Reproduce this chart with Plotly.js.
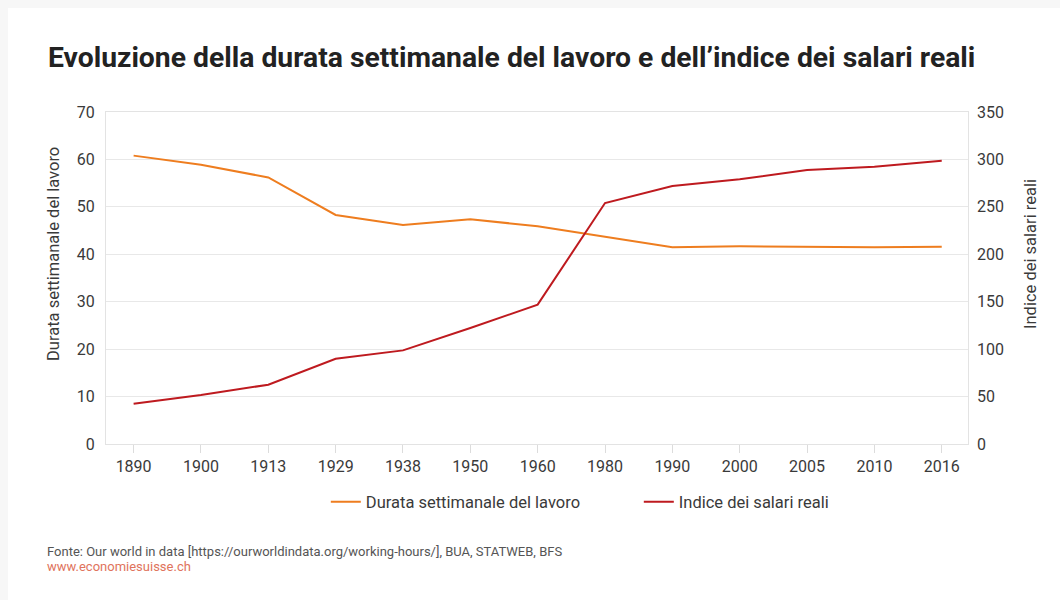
<!DOCTYPE html>
<html>
<head>
<meta charset="utf-8">
<script src="https://cdn.plot.ly/plotly-3.0.1.min.js"></script>
<style>
html,body{margin:0;padding:0;background:#f7f7f7;}
#chart{width:1060px;height:600px;}
</style>
</head>
<body>
<div id="chart"></div>
<script>
const years = ["1890","1900","1913","1929","1938","1950","1960","1980","1990","2000","2005","2010","2016"];
const workHours = [60.8, 58.9, 56.2, 48.3, 46.2, 47.4, 45.9, 43.7, 41.5, 41.7, 41.6, 41.5, 41.6];
const realWageIndex = [42.5, 51.7, 62.5, 89.9, 98.7, 122.3, 146.9, 254, 272, 279, 288.8, 292.3, 298.7];
const seriesNames = ["Durata settimanale del lavoro", "Indice dei salari reali"];
const titleText = "Evoluzione della durata settimanale del lavoro e dell’indice dei salari reali";
const sourceText = "Fonte: Our world in data [https://ourworldindata.org/working-hours/], BUA, STATWEB, BFS";
const siteText = "www.economiesuisse.ch";

const FONT = "Roboto, 'DejaVu Sans', sans-serif";
const TXT = '#3a3a3a';

const traces = [
  {x: years, y: workHours, name: seriesNames[0], type: 'scatter', mode: 'lines',
   line: {color: '#ee7d1f', width: 2}, yaxis: 'y'},
  {x: years, y: realWageIndex, name: seriesNames[1], type: 'scatter', mode: 'lines',
   line: {color: '#be1a1f', width: 2}, yaxis: 'y2'}
];

const PW = 862, PH = 332;
const layout = {
  width: 1060, height: 600,
  paper_bgcolor: '#f7f7f7', plot_bgcolor: 'rgba(0,0,0,0)',
  margin: {l: 106, r: 92, t: 112, b: 156},
  font: {family: FONT, color: TXT, size: 16},
  showlegend: true,
  legend: {orientation: 'h', x: 0.255, xanchor: 'left', y: -0.175, yanchor: 'middle',
           font: {size: 16.5, color: TXT}, bgcolor: 'rgba(0,0,0,0)', entrywidth: 268},
  xaxis: {type: 'category', range: [-0.41, 12.39], showgrid: false,
          showline: true, linecolor: '#e3e3e3', linewidth: 1, mirror: true,
          ticks: 'outside', ticklen: 8, tickcolor: '#dcdcdc', tickwidth: 1,
          tickfont: {size: 16, color: TXT}, zeroline: false, fixedrange: true},
  yaxis: {range: [0, 70], dtick: 10, showgrid: true, gridcolor: '#e8e8e8',
          showline: true, linecolor: '#e3e3e3', mirror: true, zeroline: false,
          ticks: '', ticklabelstandoff: 7,
          tickfont: {size: 16, color: TXT}},
  yaxis2: {range: [0, 350], dtick: 50, overlaying: 'y', side: 'right', showgrid: false,
           showline: false, zeroline: false, ticks: '', ticklabelstandoff: 8,
           tickfont: {size: 16, color: TXT}},
  shapes: [
    {type: 'rect', xref: 'paper', yref: 'paper', layer: 'below',
     x0: -98/PW, x1: 92/PW + 1, y0: -156/PH, y1: 104/PH + 1,
     fillcolor: '#ffffff', line: {width: 0}}
  ],
  annotations: [
    {text: '<b>' + titleText + '</b>', xref: 'paper', yref: 'paper',
     x: -60/PW, y: 1 + 54/PH, xanchor: 'left', yanchor: 'middle', showarrow: false,
     font: {size: 28.3, color: '#222', family: FONT}},
    {text: seriesNames[0], xref: 'paper', yref: 'paper', textangle: -90,
     x: -53/PW, y: (444 - 254)/PH, xanchor: 'center', yanchor: 'middle', showarrow: false,
     font: {size: 16.5, color: TXT, family: FONT}},
    {text: seriesNames[1], xref: 'paper', yref: 'paper', textangle: -90,
     x: 1 + 62/PW, y: (444 - 254)/PH, xanchor: 'center', yanchor: 'middle', showarrow: false,
     font: {size: 16.5, color: TXT, family: FONT}},
    {text: sourceText, xref: 'paper', yref: 'paper',
     x: -61/PW, y: -107/PH, xanchor: 'left', yanchor: 'middle', showarrow: false,
     font: {size: 13, color: '#555', family: FONT}},
    {text: siteText, xref: 'paper', yref: 'paper',
     x: -61/PW, y: -122/PH, xanchor: 'left', yanchor: 'middle', showarrow: false,
     font: {size: 13, color: '#e0735c', family: FONT}}
  ]
};

Plotly.newPlot('chart', traces, layout, {displayModeBar: false, staticPlot: true});
</script>
</body>
</html>
